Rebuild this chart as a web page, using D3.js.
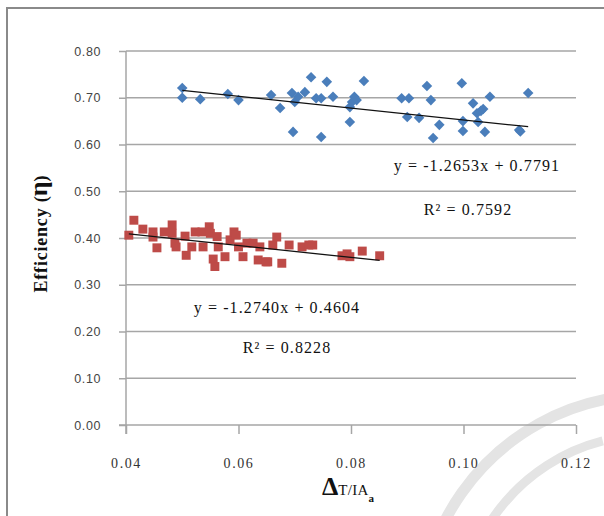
<!DOCTYPE html>
<html>
<head>
<meta charset="utf-8">
<script src="https://cdn.jsdelivr.net/npm/d3@7/dist/d3.min.js"></script>
<style>
  html, body { margin: 0; padding: 0; background: #fff; }
  svg { display: block; }
</style>
</head>
<body>
<svg id="chart" width="604" height="516"></svg>
<script>
// blue series (upper cluster): [x, efficiency]
const blueX = [0.050, 0.050, 0.0532, 0.0581, 0.060, 0.0658, 0.0674, 0.0695, 0.0697, 0.070,
  0.0706, 0.0718, 0.0729, 0.0738, 0.0747, 0.0747, 0.0757, 0.0768, 0.0798, 0.0798,
  0.0802, 0.0806, 0.081, 0.0823, 0.089, 0.0903, 0.090, 0.0921, 0.0935, 0.0942,
  0.0957, 0.0946, 0.0997, 0.0999, 0.0999, 0.1017, 0.1024, 0.1031, 0.1035, 0.1026,
  0.1038, 0.1047, 0.1099, 0.1101, 0.1115];
const blueY = [0.721, 0.700, 0.697, 0.708, 0.695, 0.706, 0.678, 0.710, 0.627, 0.691,
  0.702, 0.712, 0.744, 0.699, 0.699, 0.616, 0.734, 0.702, 0.648, 0.680,
  0.691, 0.702, 0.695, 0.736, 0.699, 0.699, 0.659, 0.657, 0.725, 0.695,
  0.642, 0.614, 0.731, 0.650, 0.629, 0.688, 0.667, 0.672, 0.676, 0.648,
  0.627, 0.702, 0.631, 0.628, 0.710];

// red series (lower cluster)
const redX = [0.0405, 0.0414, 0.043, 0.0448, 0.0448, 0.0455, 0.0468, 0.0482, 0.0482, 0.0487,
  0.0489, 0.0505, 0.0507, 0.0517, 0.0523, 0.0535, 0.0537, 0.0548, 0.055, 0.0555,
  0.0558, 0.0562, 0.0564, 0.0576, 0.0585, 0.0592, 0.0596, 0.060, 0.0608, 0.0615,
  0.0626, 0.0635, 0.0649, 0.0638, 0.0652, 0.0668, 0.0661, 0.0677, 0.069, 0.0713,
  0.0725, 0.0732, 0.0784, 0.0793, 0.0798, 0.082, 0.0851];
const redY = [0.406, 0.438, 0.419, 0.413, 0.402, 0.379, 0.413, 0.428, 0.410, 0.389,
  0.381, 0.404, 0.363, 0.381, 0.413, 0.413, 0.381, 0.424, 0.410, 0.355,
  0.339, 0.403, 0.381, 0.360, 0.396, 0.413, 0.406, 0.381, 0.360, 0.389,
  0.389, 0.353, 0.349, 0.381, 0.349, 0.402, 0.385, 0.346, 0.385, 0.381,
  0.385, 0.385, 0.362, 0.366, 0.360, 0.372, 0.362];

// regression fits
const blueFit = { slope: -1.2653, intercept: 0.7791, eq: 'y = -1.2653x + 0.7791', r2: 'R² = 0.7592' };
const redFit = { slope: -1.2740, intercept: 0.4604, eq: 'y = -1.2740x + 0.4604', r2: 'R² = 0.8228' };

const xTicks = [0.04, 0.06, 0.08, 0.10, 0.12];
const yTicks = [0, 0.1, 0.2, 0.3, 0.4, 0.5, 0.6, 0.7, 0.8];

const svg = d3.select('#chart');

const x = d3.scaleLinear().domain([0.04, 0.12]).range([126, 576]);
const y = d3.scaleLinear().domain([0, 0.8]).range([425, 51]);

// watermark arcs (faint)
const wm = svg.append('g').attr('fill', 'none').attr('stroke', '#e4e4e4');
wm.append('path')
  .attr('stroke-width', 11)
  .attr('d', d3.arc()({ innerRadius: 230, outerRadius: 230, startAngle: -Math.PI * 0.58, endAngle: -Math.PI * 0.03 }))
  .attr('transform', 'translate(650,625)');
wm.append('path')
  .attr('stroke-width', 9)
  .attr('d', d3.arc()({ innerRadius: 190, outerRadius: 190, startAngle: -Math.PI * 0.5, endAngle: -Math.PI * 0.08 }))
  .attr('transform', 'translate(650,625)');

// outer frame
svg.append('path')
  .attr('d', 'M7,516V8H604')
  .attr('fill', 'none')
  .attr('stroke', '#8a8a8a')
  .attr('stroke-width', 2);

// gridlines
svg.append('g')
  .selectAll('line')
  .data(yTicks.slice(1))
  .join('line')
  .attr('x1', x(0.04))
  .attr('x2', x(0.12))
  .attr('y1', (d) => y(d))
  .attr('y2', (d) => y(d))
  .attr('stroke', '#a6a6a6')
  .attr('stroke-width', 1.5);

// y axis
const yAxis = svg.append('g')
  .attr('transform', `translate(${x(0.04)},0)`)
  .call(d3.axisLeft(y).tickValues(yTicks).tickSize(7).tickPadding(18).tickFormat(d3.format('.2f')));
yAxis.select('.domain').attr('stroke', '#a6a6a6').attr('stroke-width', 1.5).attr('d', `M0,${y(0.8)}V${y(0) + 9}`);
yAxis.selectAll('.tick line').attr('stroke', '#a6a6a6').attr('stroke-width', 1.5);
yAxis.selectAll('.tick text')
  .attr('fill', '#444')
  .style('font-family', '"Liberation Sans", Arial, sans-serif')
  .style('font-size', '12.5px')
  .style('letter-spacing', '0.6px');

// x axis
const xAxis = svg.append('g')
  .attr('transform', `translate(0,${y(0)})`)
  .call(d3.axisBottom(x).tickValues(xTicks).tickSize(9).tickPadding(34).tickFormat(d3.format('.2f')));
xAxis.select('.domain').attr('stroke', '#a6a6a6').attr('stroke-width', 1.5).attr('d', `M${x(0.04) - 7},0H${x(0.12)}`);
xAxis.selectAll('.tick line').attr('stroke', '#a6a6a6').attr('stroke-width', 1.5);
xAxis.selectAll('.tick text')
  .attr('fill', '#333')
  .attr('dy', '0')
  .style('font-family', '"Liberation Serif", "Times New Roman", serif')
  .style('font-size', '14px')
  .style('letter-spacing', '1.6px');

// trend lines
function trend(fit, xs) {
  const [x0, x1] = d3.extent(xs);
  return [[x0, fit.intercept + fit.slope * x0], [x1, fit.intercept + fit.slope * x1]];
}
const line = d3.line().x((d) => x(d[0])).y((d) => y(d[1]));

// points
const blue = blueX.map((v, i) => [v, blueY[i]]);
const red = redX.map((v, i) => [v, redY[i]]);

svg.append('g')
  .selectAll('path')
  .data(blue)
  .join('path')
  .attr('d', d3.symbol(d3.symbolSquare, 56)())
  .attr('transform', (d) => `translate(${x(d[0])},${y(d[1])}) rotate(45)`)
  .attr('fill', '#4a7ebb');

svg.append('g')
  .selectAll('path')
  .data(red)
  .join('path')
  .attr('d', d3.symbol(d3.symbolSquare, 80)())
  .attr('transform', (d) => `translate(${x(d[0])},${y(d[1])})`)
  .attr('fill', '#be4b48');

svg.append('path')
  .datum(trend(blueFit, blueX))
  .attr('d', line)
  .attr('stroke', '#111')
  .attr('stroke-width', 1.3)
  .attr('fill', 'none');

svg.append('path')
  .datum(trend(redFit, redX))
  .attr('d', line)
  .attr('stroke', '#111')
  .attr('stroke-width', 1.3)
  .attr('fill', 'none');

// equation labels
const serif = '"Liberation Serif", "Times New Roman", serif';
const labels = [
  { text: blueFit.eq, cx: 477, by: 171 },
  { text: blueFit.r2, cx: 468, by: 215 },
  { text: redFit.eq, cx: 277, by: 313 },
  { text: redFit.r2, cx: 287, by: 353 },
];
svg.append('g')
  .selectAll('text')
  .data(labels)
  .join('text')
  .attr('x', (d) => d.cx)
  .attr('y', (d) => d.by)
  .attr('text-anchor', 'middle')
  .attr('fill', '#111')
  .style('font-family', serif)
  .style('font-size', '16px')
  .style('letter-spacing', '1.1px')
  .text((d) => d.text);

// y axis title
const yTitle = svg.append('text')
  .attr('transform', 'translate(47,234) rotate(-90)')
  .attr('text-anchor', 'middle')
  .attr('fill', '#111')
  .style('font-family', serif)
  .style('font-weight', 'bold')
  .style('font-size', '18px');
yTitle.append('tspan').text('Efficiency ').style('letter-spacing', '0.8px');
yTitle.append('tspan').text('(');
yTitle.append('tspan').text('η').style('font-size', '26px');
yTitle.append('tspan').text(')');

// x axis title
const xTitle = svg.append('text')
  .attr('x', 348)
  .attr('y', 495)
  .attr('text-anchor', 'middle')
  .attr('fill', '#111')
  .style('font-family', serif)
  .style('font-weight', 'bold');
xTitle.append('tspan').text('Δ').style('font-size', '26px');
xTitle.append('tspan').text('T/IA').style('font-size', '15px').style('font-weight', 'normal').style('letter-spacing', '0.3px');
xTitle.append('tspan').text('a').attr('dy', 7).style('font-size', '11px');
</script>
</body>
</html>
